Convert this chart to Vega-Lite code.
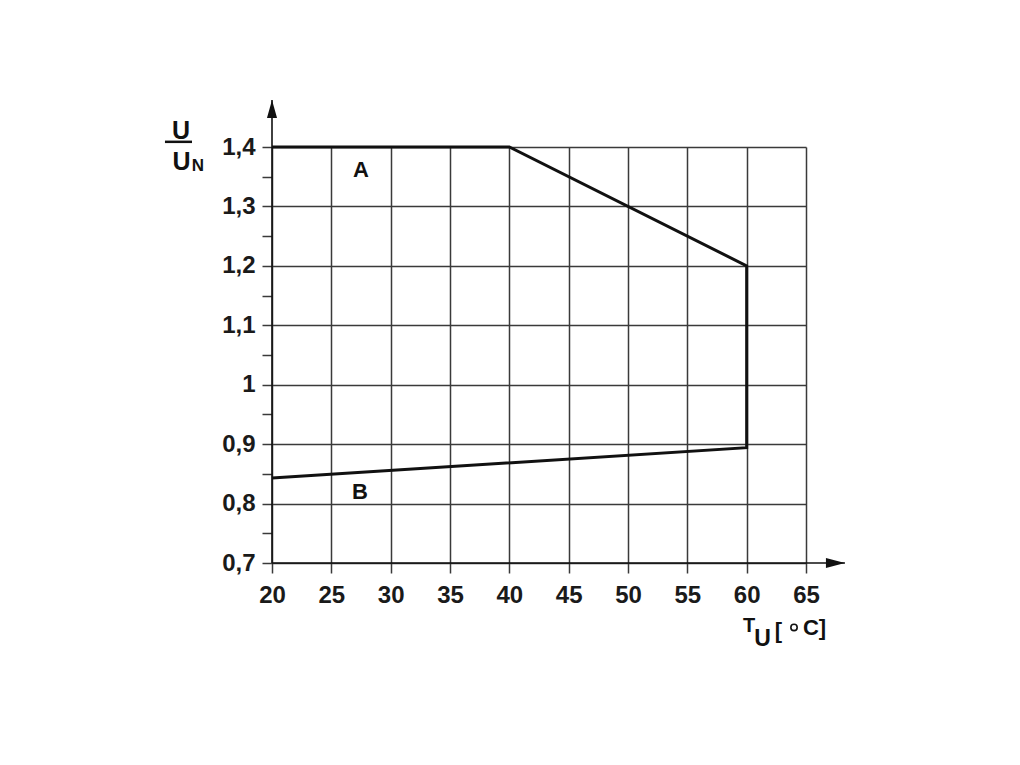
{
  "$schema": "https://vega.github.io/schema/vega-lite/v6.json",
  "width": 534,
  "height": 416,
  "autosize": {"type": "none"},
  "padding": {"left": 272, "top": 147, "right": 214, "bottom": 202},
  "background": "white",
  "config": {
    "view": {"stroke": null},
    "font": "Liberation Sans",
    "text": {"font": "Liberation Sans", "fontWeight": "bold", "baseline": "middle", "align": "center", "color": "#111"}
  },
  "datasets": {
    "curve": [
      {"i": 0, "x": 20, "y": 1.4},
      {"i": 1, "x": 40, "y": 1.4},
      {"i": 2, "x": 60, "y": 1.2},
      {"i": 3, "x": 60, "y": 0.894},
      {"i": 4, "x": 20, "y": 0.843}
    ],
    "axisLines": [
      {"x": 20, "y": 0.7, "x2": 20, "y2": 1.479},
      {"x": 20, "y": 0.7, "x2": 68.28, "y2": 0.7}
    ],
    "arrows": [
      {"x": 20, "y": 1.464, "dir": "up"},
      {"x": 67.48, "y": 0.7, "dir": "right"}
    ],
    "degree": [
      {"x": 63.99, "y": 0.5915}
    ],
    "labels": [
      {"x": 27.5, "y": 1.3616, "text": "A", "g": "ab"},
      {"x": 27.42, "y": 0.8187, "text": "B", "g": "ab"},
      {"x": 12.33, "y": 1.427, "text": "U", "g": "bigU"},
      {"x": 12.37, "y": 1.3756, "text": "U", "g": "bigU"},
      {"x": 13.76, "y": 1.368, "text": "N", "g": "sub"},
      {"x": 60.2, "y": 0.5932, "text": "T", "g": "t"},
      {"x": 61.33, "y": 0.5721, "text": "U", "g": "u"},
      {"x": 62.68, "y": 0.5864, "text": "[", "g": "unit"},
      {"x": 65.72, "y": 0.5906, "text": "C]", "g": "unit"}
    ],
    "bar": [
      {"x": 10.98, "x2": 13.26, "y": 1.4087}
    ]
  },
  "encoding": {
    "x": {
      "field": "x",
      "type": "quantitative",
      "scale": {"domain": [20, 65], "nice": false, "zero": false},
      "axis": {
        "values": [20, 25, 30, 35, 40, 45, 50, 55, 60, 65],
        "title": null,
        "domain": false,
        "grid": true,
        "gridColor": "#3a3a3a",
        "gridWidth": 1.5,
        "tickColor": "#3a3a3a",
        "tickWidth": 1.5,
        "tickSize": 10,
        "labelFont": "Liberation Sans",
        "labelFontWeight": "bold",
        "labelFontSize": 24,
        "labelColor": "#1a1a1a",
        "labelPadding": 10,
        "labelFlush": false,
        "labelOverlap": false
      }
    },
    "y": {
      "field": "y",
      "type": "quantitative",
      "scale": {"domain": [0.7, 1.4], "nice": false, "zero": false},
      "axis": {
        "values": [0.7, 0.75, 0.8, 0.85, 0.9, 0.95, 1, 1.05, 1.1, 1.15, 1.2, 1.25, 1.3, 1.35, 1.4],
        "labelExpr": "round(datum.value*100)%10==5 ? '' : replace(format(datum.value,'~g'),'.',',')",
        "title": null,
        "domain": false,
        "grid": true,
        "gridColor": "#3a3a3a",
        "gridWidth": 1.5,
        "gridOpacity": {"condition": {"test": "round(datum.value*100)%10==5", "value": 0}, "value": 1},
        "tickColor": "#3a3a3a",
        "tickWidth": 1.5,
        "tickSize": 10,
        "labelFont": "Liberation Sans",
        "labelFontWeight": "bold",
        "labelFontSize": 24,
        "labelColor": "#1a1a1a",
        "labelPadding": 7,
        "labelFlush": false,
        "labelOverlap": false
      }
    }
  },
  "layer": [
    {
      "data": {"name": "axisLines"},
      "mark": {"type": "rule", "color": "#111", "strokeWidth": 1.6},
      "encoding": {
        "x2": {"field": "x2"},
        "y2": {"field": "y2"}
      }
    },
    {
      "data": {"name": "curve"},
      "mark": {"type": "line", "color": "#111", "strokeWidth": 3, "strokeJoin": "miter"},
      "encoding": {
        "order": {"field": "i", "type": "quantitative"}
      }
    },
    {
      "data": {"name": "arrows"},
      "transform": [{"filter": "datum.dir == 'up'"}],
      "mark": {"type": "point", "filled": true, "color": "#111", "opacity": 1, "size": 324, "shape": "M-0.56,1L0,-1L0.56,1Z"}
    },
    {
      "data": {"name": "arrows"},
      "transform": [{"filter": "datum.dir == 'right'"}],
      "mark": {"type": "point", "filled": true, "color": "#111", "opacity": 1, "size": 361, "shape": "M-1,-0.53L1,0L-1,0.53Z"}
    },
    {
      "data": {"name": "degree"},
      "mark": {"type": "point", "shape": "circle", "filled": false, "color": "#111", "opacity": 1, "size": 40, "strokeWidth": 1.6}
    },
    {
      "data": {"name": "bar"},
      "mark": {"type": "rule", "color": "#111", "strokeWidth": 2.5},
      "encoding": {
        "x2": {"field": "x2"}
      }
    },
    {
      "data": {"name": "labels"},
      "transform": [{"filter": "datum.g == 'ab'"}],
      "mark": {"type": "text", "fontSize": 22},
      "encoding": {"text": {"field": "text"}}
    },
    {
      "data": {"name": "labels"},
      "transform": [{"filter": "datum.g == 'bigU'"}],
      "mark": {"type": "text", "fontSize": 25},
      "encoding": {"text": {"field": "text"}}
    },
    {
      "data": {"name": "labels"},
      "transform": [{"filter": "datum.g == 'sub'"}],
      "mark": {"type": "text", "fontSize": 17},
      "encoding": {"text": {"field": "text"}}
    },
    {
      "data": {"name": "labels"},
      "transform": [{"filter": "datum.g == 't'"}],
      "mark": {"type": "text", "fontSize": 20},
      "encoding": {"text": {"field": "text"}}
    },
    {
      "data": {"name": "labels"},
      "transform": [{"filter": "datum.g == 'u'"}],
      "mark": {"type": "text", "fontSize": 23},
      "encoding": {"text": {"field": "text"}}
    },
    {
      "data": {"name": "labels"},
      "transform": [{"filter": "datum.g == 'unit'"}],
      "mark": {"type": "text", "fontSize": 22},
      "encoding": {"text": {"field": "text"}}
    }
  ]
}
